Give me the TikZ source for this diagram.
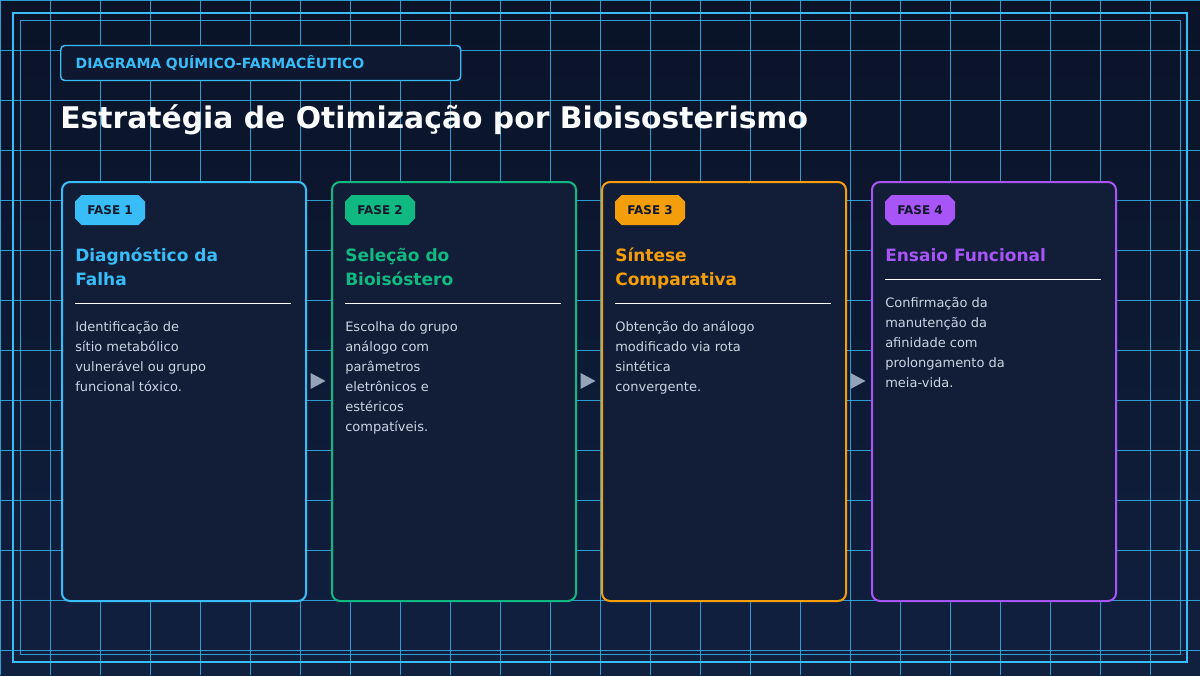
\documentclass[tikz,border=0pt]{standalone}
\usepackage{fontspec}
\setmainfont{DejaVu Sans}
\usetikzlibrary{calc,shapes.misc}

\definecolor{bgtop}{HTML}{0A1328}
\definecolor{bgbot}{HTML}{10203F}
\definecolor{gridblue}{HTML}{38BDF8}
\definecolor{cardfill}{HTML}{121E38}
\definecolor{tagfill}{HTML}{0E1830}
\definecolor{bodytext}{HTML}{CBD5E1}
\definecolor{tipgrey}{HTML}{94A3B8}
\definecolor{badgetext}{HTML}{0F172A}
\definecolor{faseA}{HTML}{38BDF8}
\definecolor{faseB}{HTML}{10B981}
\definecolor{faseC}{HTML}{F59E0B}
\definecolor{faseD}{HTML}{A855F7}

\tikzset{
	gridline/.style={draw=gridblue, line width=0.75pt, opacity=0.8},
	card/.style={draw=#1, fill=cardfill, line width=1.5pt, rounded corners=6pt,
		minimum width=183pt, minimum height=314.25pt, inner sep=0pt, anchor=north west},
	badge/.style={chamfered rectangle, chamfered rectangle xsep=2.5pt, chamfered rectangle ysep=2.5pt,
		fill=#1, minimum width=52.5pt, minimum height=22.5pt, inner sep=0pt,
		text=badgetext, font=\bfseries\fontsize{9}{11}\selectfont},
	heading/.style={anchor=north west, align=left, inner sep=0pt, text=#1,
		font=\bfseries\fontsize{12.75}{18}\selectfont},
	bodytxt/.style={anchor=north west, align=left, inner sep=0pt, text=bodytext,
		font=\fontsize{9.75}{15}\selectfont},
	tip/.style={fill=tipgrey}
}

\begin{document}
\begin{tikzpicture}[x=0.75pt,y=-0.75pt]
	\useasboundingbox (0,0) rectangle (1200,675);
	\shade[top color=bgtop, bottom color=bgbot] (0,0) rectangle (1200,675);
	% grid
	\foreach \x in {0,50,...,1200} \draw[gridline] (\x,0) -- (\x,675);
	\foreach \y in {0,50,...,650} \draw[gridline] (0,\y) -- (1200,\y);
	% frames
	\draw[gridblue, line width=1.5pt] (13,13) rectangle (1187,662);
	\draw[gridblue, line width=0.75pt, opacity=0.8] (20.5,20.5) rectangle (1180,654.5);

	\node[draw=gridblue, fill=tagfill, line width=1.1pt, rounded corners=3pt, anchor=west,
		minimum height=26.25pt, text width=277.5pt, inner xsep=11.25pt, text=gridblue,
		font=\bfseries\fontsize{10.5}{12}\selectfont] (tag) at (60,63) {DIAGRAMA QUÍMICO-FARMACÊUTICO};
	\node[anchor=base west, inner sep=0pt, text=white!92!bodytext,
		font=\bfseries\fontsize{22.35}{26}\selectfont] (title) at (60,128) {Estratégia de Otimização por Bioisosterismo};

	\foreach \i/\col/\head/\body in {
		1/faseA/{Diagnóstico da\\Falha}/{Identificação de\\sítio metabólico\\vulnerável ou grupo\\funcional tóxico.},
		2/faseB/{Seleção do\\Bioisóstero}/{Escolha do grupo\\análogo com\\parâmetros\\eletrônicos e\\estéricos\\compatíveis.},
		3/faseC/{Síntese\\Comparativa}/{Obtenção do análogo\\modificado via rota\\sintética\\convergente.},
		4/faseD/{Ensaio Funcional}/{Confirmação da\\manutenção da\\afinidade com\\prolongamento da\\meia-vida.}}
	{
		\node[card=\col] (card\i) at ({61+270*(\i-1)},181) {};
		\node[badge=\col] (badge\i) at ($(card\i.north west)+(49,29)$) {FASE \i};
		\node[heading=\col] (head\i) at ($(card\i.north west)+(14,63.2)$) {\strut\head};
		\draw[white, line width=1pt] ($(head\i.base west)+(0,18)$) coordinate (sepL\i)
			-- ($(sepL\i)+(216,0)$) coordinate (sepR\i);
		\node[bodytxt] (body\i) at ($(sepL\i)+(0,14)$) {\strut\body};
	}

	% arrow tips between the phases
	\foreach \a/\b in {1/2,2/3,3/4}
	{
		\coordinate (tip\a) at ($([yshift=7.9pt]card\a.east)!0.5!([yshift=7.9pt]card\b.west)$);
		\fill[tip] (tip\a) ++(-8.5,-8) -- ++(15,8) -- ++(-15,8) -- cycle;
	}
\end{tikzpicture}
\end{document}
